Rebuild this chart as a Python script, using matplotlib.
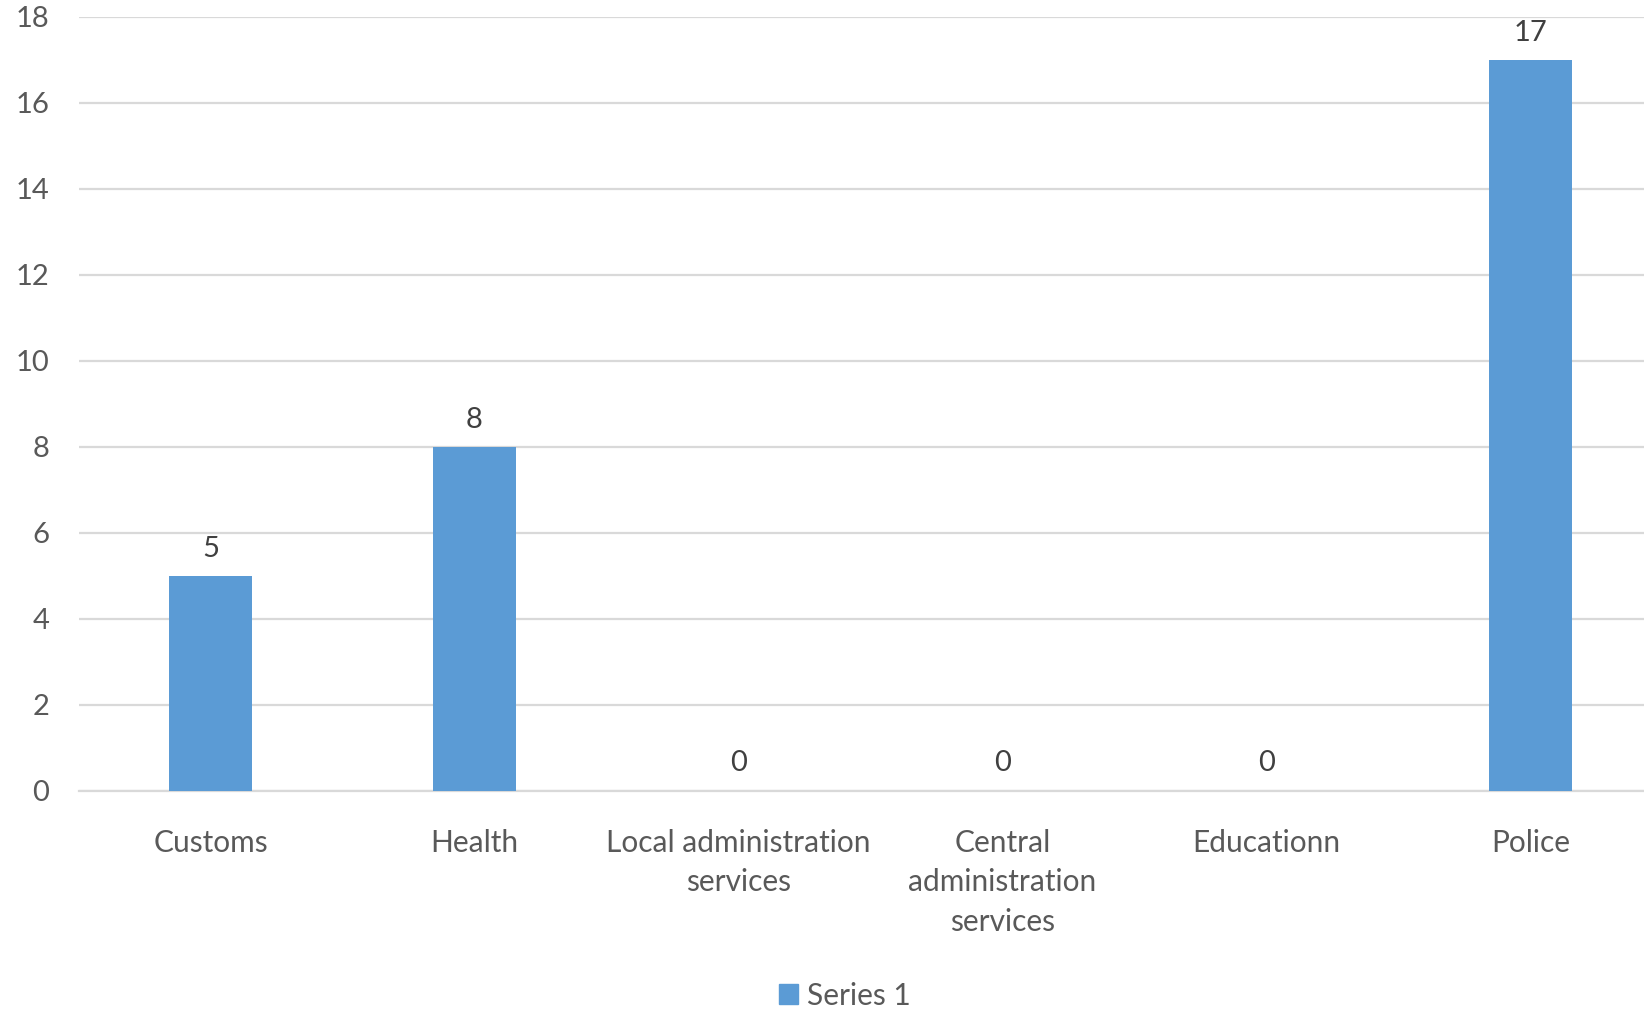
import matplotlib
matplotlib.use("Agg")
import matplotlib.pyplot as plt
from matplotlib.patches import Patch

categories = ["Customs", "Health", "Local administration\nservices",
              "Central\nadministration\nservices", "Educationn", "Police"]
values = [5, 8, 0, 0, 0, 17]
yticks = [0, 2, 4, 6, 8, 10, 12, 14, 16, 18]
series_name = "Series 1"

plt.rcParams['font.family'] = ['Lato', 'DejaVu Sans']

fig = plt.figure(figsize=(16.44, 10.09), dpi=100)
ax = fig.add_axes([0.0478, 0.2165, 0.9522, 0.7668])

x = list(range(len(categories)))
bars = ax.bar(x, values, width=0.314, color="#5B9BD5", zorder=3)

ax.set_xlim(-0.5, 5.43)
ax.set_ylim(0, 18)
ax.set_yticks(yticks)
ax.set_yticklabels([str(t) for t in yticks])
ax.set_xticks(x)
ax.set_xticklabels(categories, linespacing=1.48, va='top')

ax.grid(axis='y', color="#D9D9D9", linewidth=1.6, zorder=0)
ax.set_axisbelow(True)
for s in ["top", "right", "left"]:
    ax.spines[s].set_visible(False)
ax.spines["bottom"].set_color("#D9D9D9")
ax.spines["bottom"].set_linewidth(1.6)

ax.tick_params(axis='y', length=0, pad=21, labelsize=21, labelcolor="#595959")
ax.tick_params(axis='x', length=0, pad=28, labelsize=21.5, labelcolor="#595959")

for xi, v in zip(x, values):
    ax.annotate(str(v), (xi, v), xytext=(0, 19.5), textcoords='offset points',
                ha='center', va='center', fontsize=21, color="#404040")

fig.legend(handles=[Patch(color="#5B9BD5", label=series_name)],
           loc='center', bbox_to_anchor=(0.514, 0.013), frameon=False,
           fontsize=21.5, labelcolor="#595959", handlelength=0.65, handleheight=0.65,
           handletextpad=0.3)

fig.savefig("out.png", dpi=100)
